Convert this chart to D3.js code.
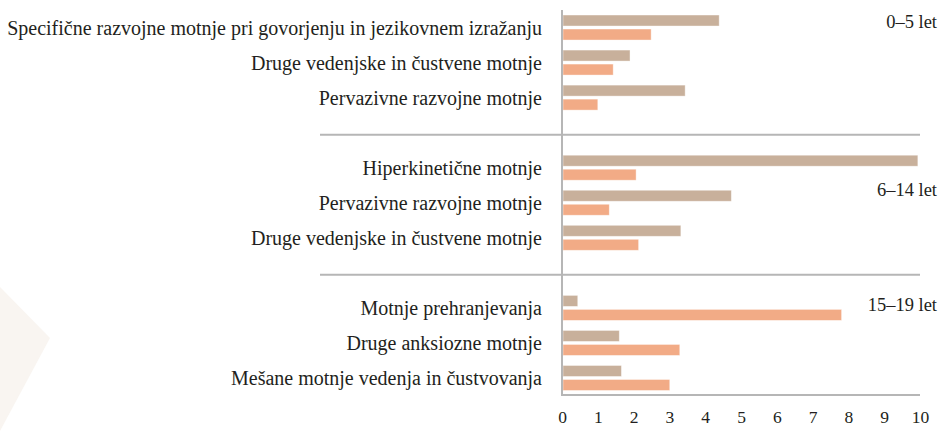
<!DOCTYPE html>
<html>
<head>
<meta charset="utf-8">
<script src="https://cdn.jsdelivr.net/npm/d3@7"></script>
<style>
  html, body { margin: 0; padding: 0; background: #fff; }
  svg { display: block; }
</style>
</head>
<body>
<svg id="chart" width="940" height="431"></svg>
<script>
// ---- data ----
const groups = ["0–5 let", "6–14 let", "15–19 let"];
const categories = [
  "Specifične razvojne motnje pri govorjenju in jezikovnem izražanju",
  "Druge vedenjske in čustvene motnje",
  "Pervazivne razvojne motnje",
  "Hiperkinetične motnje",
  "Pervazivne razvojne motnje",
  "Druge vedenjske in čustvene motnje",
  "Motnje prehranjevanja",
  "Druge anksiozne motnje",
  "Mešane motnje vedenja in čustvovanja"
];
const categoryGroup = [0, 0, 0, 1, 1, 1, 2, 2, 2];
const seriesA = [4.39, 1.90, 3.44, 9.94, 4.73, 3.32, 0.44, 1.60, 1.66];
const seriesB = [2.49, 1.43, 1.00, 2.07, 1.32, 2.14, 7.81, 3.29, 3.01];
const tickValues = [0, 1, 2, 3, 4, 5, 6, 7, 8, 9, 10];

// ---- styles ----
const colorA = "#c8b09b";
const colorB = "#f2ab86";
const axisColor = "#b6b6b6";
const textColor = "#231f20";
const serif = "'Times New Roman', Tinos, serif";

const svg = d3.select("#chart");

// decorative background shape
svg.append("polygon")
  .attr("points", "0,287 50,338 0,431")
  .attr("fill", "#f9f5f1");

const x = d3.scaleLinear().domain([0, 10]).range([562, 920]);
const slots = d3.range(11);
const y = d3.scaleBand().domain(slots).range([10, 395.5]).padding(0);
const slotOf = i => i + categoryGroup[i];
const cy = i => y(slotOf(i)) + y.bandwidth() / 2;

const barH = 11, gap = 1.5;

// bars
const rows = categories.map((c, i) => ({ c, i, a: seriesA[i], b: seriesB[i] }));
svg.append("g").selectAll("rect").data(rows).join("rect")
  .attr("x", x(0) + 1)
  .attr("y", d => cy(d.i) - gap - barH)
  .attr("width", d => x(d.a) - x(0) - 1)
  .attr("height", barH)
  .attr("fill", colorA)
  .attr("stroke", "#fff").attr("stroke-opacity", 0.5).attr("stroke-width", 0.8);
svg.append("g").selectAll("rect").data(rows).join("rect")
  .attr("x", x(0) + 1)
  .attr("y", d => cy(d.i) + gap)
  .attr("width", d => x(d.b) - x(0) - 1)
  .attr("height", barH)
  .attr("fill", colorB)
  .attr("stroke", "#fff").attr("stroke-opacity", 0.5).attr("stroke-width", 0.8);

// separators between groups
[3, 7].forEach(s => {
  const yy = y(s) + y.bandwidth() / 2 + 2;
  svg.append("line")
    .attr("x1", 320).attr("x2", x(10))
    .attr("y1", yy).attr("y2", yy)
    .attr("stroke", axisColor).attr("stroke-width", 2);
});

// bottom line
svg.append("line")
  .attr("x1", x(0)).attr("x2", x(10))
  .attr("y1", 395).attr("y2", 395)
  .attr("stroke", axisColor).attr("stroke-width", 2);

// vertical axis line
svg.append("line")
  .attr("x1", x(0)).attr("x2", x(0))
  .attr("y1", 10).attr("y2", 396)
  .attr("stroke", axisColor).attr("stroke-width", 2);

// category labels
svg.append("g").selectAll("text").data(rows).join("text")
  .attr("x", 542)
  .attr("y", d => cy(d.i))
  .attr("dy", "0.35em")
  .attr("text-anchor", "end")
  .attr("font-family", serif)
  .attr("font-size", 20)
  .attr("fill", textColor)
  .text(d => d.c);

// group labels
const groupSlot = [0, 4, 8];
const groupOffset = [-6, 22, -3];
svg.append("g").selectAll("text").data(groups).join("text")
  .attr("x", 937)
  .attr("y", (g, k) => y(groupSlot[k]) + y.bandwidth() / 2 + groupOffset[k])
  .attr("dy", "0.35em")
  .attr("text-anchor", "end")
  .attr("font-family", serif)
  .attr("font-size", 18.5)
  .attr("fill", textColor)
  .text(g => g);

// x axis tick labels
const axis = d3.axisBottom(x).tickValues(tickValues).tickSize(0).tickPadding(0).tickFormat(d3.format("d"));
const ag = svg.append("g").attr("transform", "translate(0,411)").call(axis);
ag.select(".domain").remove();
ag.selectAll("text")
  .attr("font-family", serif)
  .attr("font-size", 17.5)
  .attr("fill", textColor)
  .attr("dy", "0.71em");
</script>
</body>
</html>
